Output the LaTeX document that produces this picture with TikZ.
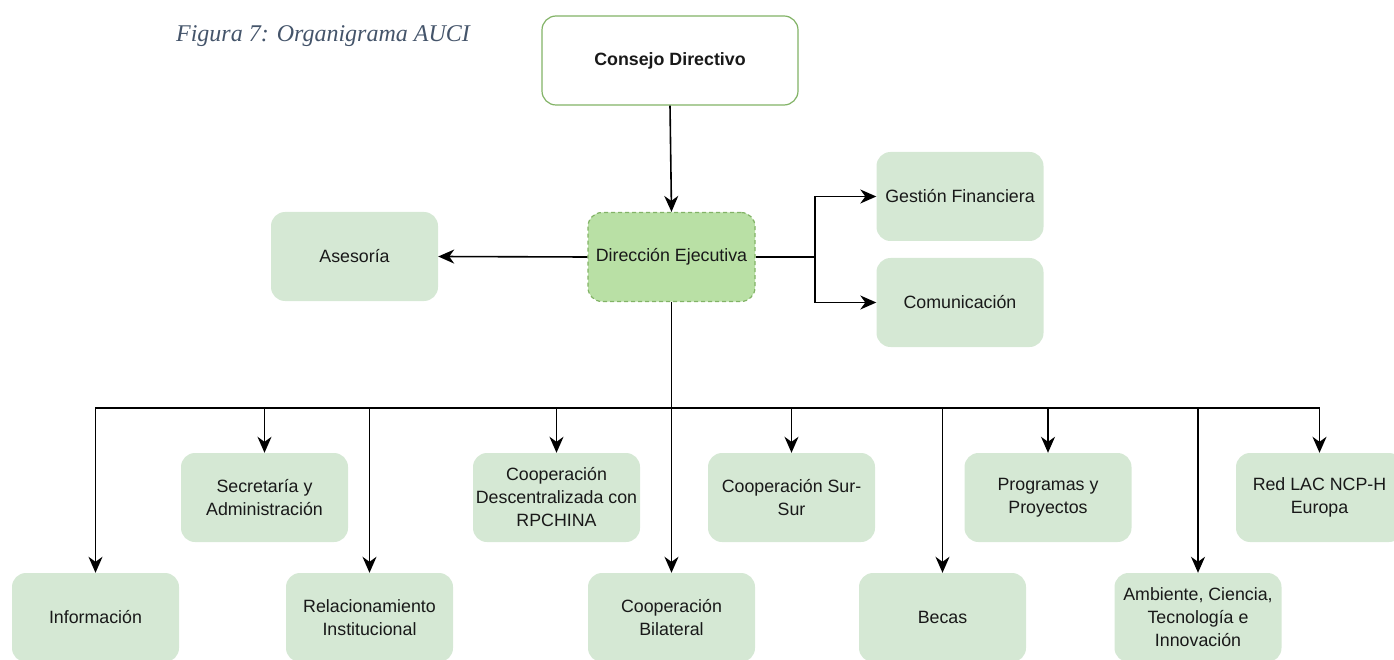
\documentclass[tikz,border=0pt]{standalone}
\usepackage{fontspec}
\setmainfont{Liberation Sans}
\newfontfamily\titlefont{Liberation Serif}
\usetikzlibrary{arrows.meta}
\definecolor{boxfill}{HTML}{D5E8D4}
\definecolor{boxline}{HTML}{82B366}
\definecolor{dirfill}{HTML}{B9E0A5}
\definecolor{titlecol}{HTML}{44546A}
\begin{document}
\begin{tikzpicture}[x=1pt,y=-1pt,
  box/.style={rectangle, rounded corners=14pt, fill=boxfill, minimum width=167pt, minimum height=89pt, align=center, font=\fontsize{17.8}{23}\selectfont, text=black!90, inner sep=2pt},
  topbox/.style={box, fill=white, draw=boxline, line width=1.2pt, font=\fontsize{17.8}{23}\selectfont\bfseries, minimum width=256pt},
  dirbox/.style={box, fill=dirfill, draw=boxline, line width=1.2pt, dashed, dash pattern=on 4pt off 3pt},
  arr/.style={line width=1.6pt, -{Stealth[length=16pt,width=14pt,inset=5pt]}},
  ln/.style={line width=1.6pt}]
\useasboundingbox (0,0) rectangle (1394,660);
\clip (0,0) rectangle (1394,660);
\node[font=\titlefont\itshape\fontsize{24}{28}\selectfont, text=titlecol] (title) at (323,36) {Figura 7: Organigrama AUCI};
\node[topbox] (cd) at (670,60.5) {Consejo Directivo};
\node[dirbox] (de) at (671.5,257) {Dirección Ejecutiva};
\node[box] (as) at (354.5,256.5) {Asesoría};
\node[box] (gf) at (960,196.5) {Gestión Financiera};
\node[box] (com) at (960,302.5) {Comunicación};
% row 1
\node[box] (sec) at (264.5,497.5) {Secretaría y\\Administración};
\node[box] (cdr) at (556.5,497.5) {Cooperación\\Descentralizada con\\RPCHINA};
\node[box] (css) at (791.5,497.5) {Cooperación Sur-\\Sur};
\node[box] (pp) at (1048,497.5) {Programas y\\Proyectos};
\node[box] (red) at (1319.5,497.5) {Red LAC NCP-H\\Europa};
% row 2
\node[box] (inf) at (95.5,617.5) {Información};
\node[box] (rel) at (369.5,617.5) {Relacionamiento\\Institucional};
\node[box] (cb) at (671.5,617.5) {Cooperación\\Bilateral};
\node[box] (bec) at (942.5,617.5) {Becas};
\node[box] (amb) at (1198,617.5) {Ambiente, Ciencia,\\Tecnología e\\Innovación};
% connectors
\draw[arr] (cd.south) -- (de.north);
\draw[arr] (de.west) -- (as.east);
\coordinate (split) at (815,257);
\draw[ln] (de.east) -- (split);
\draw[arr] (split) |- (gf.west);
\draw[arr] (split) |- (com.west);
\coordinate (bus) at (671.5,408);
\draw[arr] (de.south) -- (cb.north);
\draw[arr] (bus) -| (inf.north);
\draw[arr] (bus) -| (sec.north);
\draw[arr] (bus) -| (rel.north);
\draw[arr] (bus) -| (cdr.north);
\draw[arr] (bus) -| (css.north);
\draw[arr] (bus) -| (bec.north);
\draw[arr] (bus) -| (pp.north);
\draw[arr] (bus) -| (amb.north);
\draw[arr] (bus) -| (red.north);
\end{tikzpicture}
\end{document}
